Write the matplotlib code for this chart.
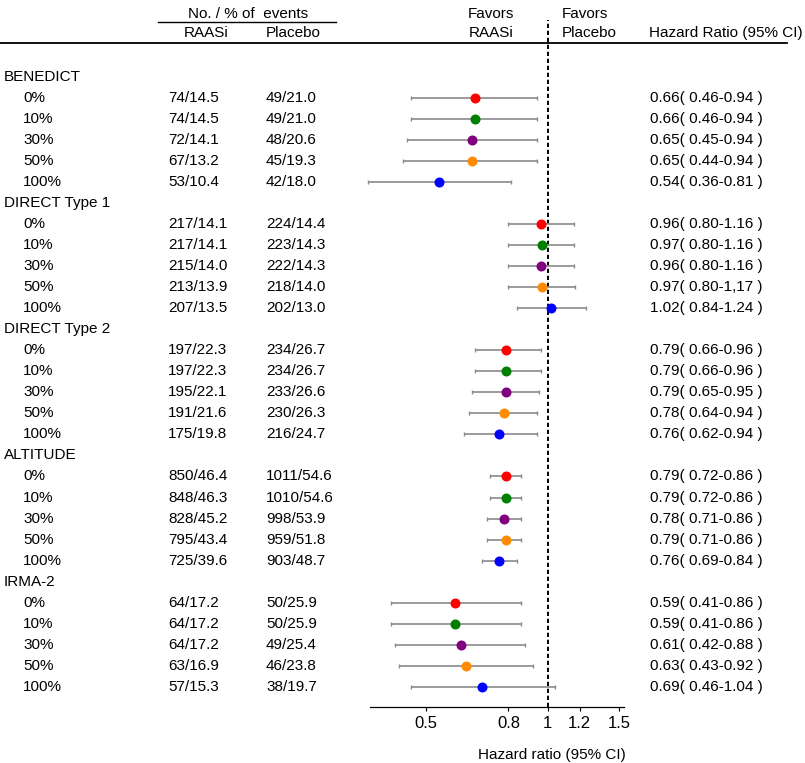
import matplotlib
matplotlib.use("Agg")
import matplotlib.pyplot as plt
import matplotlib.transforms as mtransforms
from matplotlib.lines import Line2D
import numpy as np

plt.rcParams['font.family'] = ['Liberation Sans', 'DejaVu Sans']

# ---------------- data ----------------
groups = ["BENEDICT", "DIRECT Type 1", "DIRECT Type 2", "ALTITUDE", "IRMA-2"]
levels = ["0%", "10%", "30%", "50%", "100%"]
level_colors = ["#ff0000", "#008000", "#800080", "#ff8c00", "#0000ff"]

raasi_events = [
    ["74/14.5", "74/14.5", "72/14.1", "67/13.2", "53/10.4"],
    ["217/14.1", "217/14.1", "215/14.0", "213/13.9", "207/13.5"],
    ["197/22.3", "197/22.3", "195/22.1", "191/21.6", "175/19.8"],
    ["850/46.4", "848/46.3", "828/45.2", "795/43.4", "725/39.6"],
    ["64/17.2", "64/17.2", "64/17.2", "63/16.9", "57/15.3"],
]
placebo_events = [
    ["49/21.0", "49/21.0", "48/20.6", "45/19.3", "42/18.0"],
    ["224/14.4", "223/14.3", "222/14.3", "218/14.0", "202/13.0"],
    ["234/26.7", "234/26.7", "233/26.6", "230/26.3", "216/24.7"],
    ["1011/54.6", "1010/54.6", "998/53.9", "959/51.8", "903/48.7"],
    ["50/25.9", "50/25.9", "49/25.4", "46/23.8", "38/19.7"],
]
hr = [
    [0.66, 0.66, 0.65, 0.65, 0.54],
    [0.96, 0.97, 0.96, 0.97, 1.02],
    [0.79, 0.79, 0.79, 0.78, 0.76],
    [0.79, 0.79, 0.78, 0.79, 0.76],
    [0.59, 0.59, 0.61, 0.63, 0.69],
]
ci_low = [
    [0.46, 0.46, 0.45, 0.44, 0.36],
    [0.80, 0.80, 0.80, 0.80, 0.84],
    [0.66, 0.66, 0.65, 0.64, 0.62],
    [0.72, 0.72, 0.71, 0.71, 0.69],
    [0.41, 0.41, 0.42, 0.43, 0.46],
]
ci_high = [
    [0.94, 0.94, 0.94, 0.94, 0.81],
    [1.16, 1.16, 1.16, 1.17, 1.24],
    [0.96, 0.96, 0.95, 0.94, 0.94],
    [0.86, 0.86, 0.86, 0.86, 0.84],
    [0.86, 0.86, 0.88, 0.92, 1.04],
]
xticks = [0.5, 0.8, 1, 1.2, 1.5]
xtick_labels = ["0.5", "0.8", "1", "1.2", "1.5"]

# ---------------- layout ----------------
W, H = 805, 763
fig = plt.figure(figsize=(W / 100, H / 100), dpi=100)


def fx(px):
    return px / W


def fy(py):
    return 1 - py / H


ax_l, ax_r, ax_t, ax_b = 370, 624, 20, 706.7
ax = fig.add_axes([fx(ax_l), fy(ax_b), (ax_r - ax_l) / W, (ax_b - ax_t) / H])

row0_px, row_step = 76.5, 21.05
ax.set_ylim((ax_b - row0_px) / row_step, (ax_t - row0_px) / row_step)
ax.set_xscale("log")
ax.set_xlim(0.364, 1.543)
ax.set_xticks(xticks)
ax.set_xticklabels(xtick_labels)
ax.minorticks_off()
ax.tick_params(axis="x", which="major", direction="out", length=3, width=0.8,
               labelsize=12, pad=3.5, colors="black")
ax.set_yticks([])
for s in ["top", "left", "right"]:
    ax.spines[s].set_visible(False)
ax.spines["bottom"].set_linewidth(0.9)
ax.patch.set_alpha(0)

ax.axvline(1, color="black", lw=1.4, ls=(0, (2.2, 1.4)), clip_on=False, zorder=1)

trans = mtransforms.blended_transform_factory(fig.transFigure, ax.transData)
FS = 11

row = 0
for g, name in enumerate(groups):
    fig.text(fx(4), row, name, transform=trans, fontsize=FS, va="center", ha="left")
    row += 1
    for k, lev in enumerate(levels):
        fig.text(fx(23), row, lev, transform=trans, fontsize=FS, va="center", ha="left")
        fig.text(fx(168), row, raasi_events[g][k], transform=trans, fontsize=FS,
                 va="center", ha="left")
        fig.text(fx(266), row, placebo_events[g][k], transform=trans, fontsize=FS,
                 va="center", ha="left")
        txt = "%.2f( %.2f-%.2f )" % (hr[g][k], ci_low[g][k], ci_high[g][k])
        if g == 1 and k == 3:
            txt = txt.replace("1.17", "1,17")
        fig.text(fx(650), row, txt, transform=trans, fontsize=FS, va="center", ha="left")
        h = hr[g][k]
        ax.errorbar([h], [row], xerr=[[h - ci_low[g][k]], [ci_high[g][k] - h]],
                    fmt="o", color=level_colors[k], mec=level_colors[k], ms=6.2,
                    ecolor="#8a8a8a", elinewidth=1.2, capsize=1.7, capthick=1.0,
                    zorder=3, clip_on=False)
        row += 1

# ---------------- headers ----------------
fig.text(fx(248), fy(14), "No. / % of  events", fontsize=FS, ha="center", va="center")
fig.add_artist(Line2D([fx(158), fx(336)], [fy(22), fy(22)], transform=fig.transFigure,
                      color="black", lw=1.0))
fig.text(fx(184), fy(33), "RAASi", fontsize=FS, ha="left", va="center")
fig.text(fx(266), fy(33), "Placebo", fontsize=FS, ha="left", va="center")
fig.text(fx(491), fy(14), "Favors", fontsize=FS, ha="center", va="center")
fig.text(fx(491), fy(33), "RAASi", fontsize=FS, ha="center", va="center")
fig.text(fx(562), fy(14), "Favors", fontsize=FS, ha="left", va="center")
fig.text(fx(562), fy(33), "Placebo", fontsize=FS, ha="left", va="center")
fig.text(fx(649), fy(33), "Hazard Ratio (95% CI)", fontsize=FS, ha="left", va="center")
fig.add_artist(Line2D([fx(0), fx(787)], [fy(42.7), fy(42.7)], transform=fig.transFigure,
                      color="black", lw=1.3))

fig.text(fx(552), fy(755), "Hazard ratio (95% CI)", fontsize=FS, ha="center", va="center")

fig.savefig("out.png", dpi=100, facecolor="white")
